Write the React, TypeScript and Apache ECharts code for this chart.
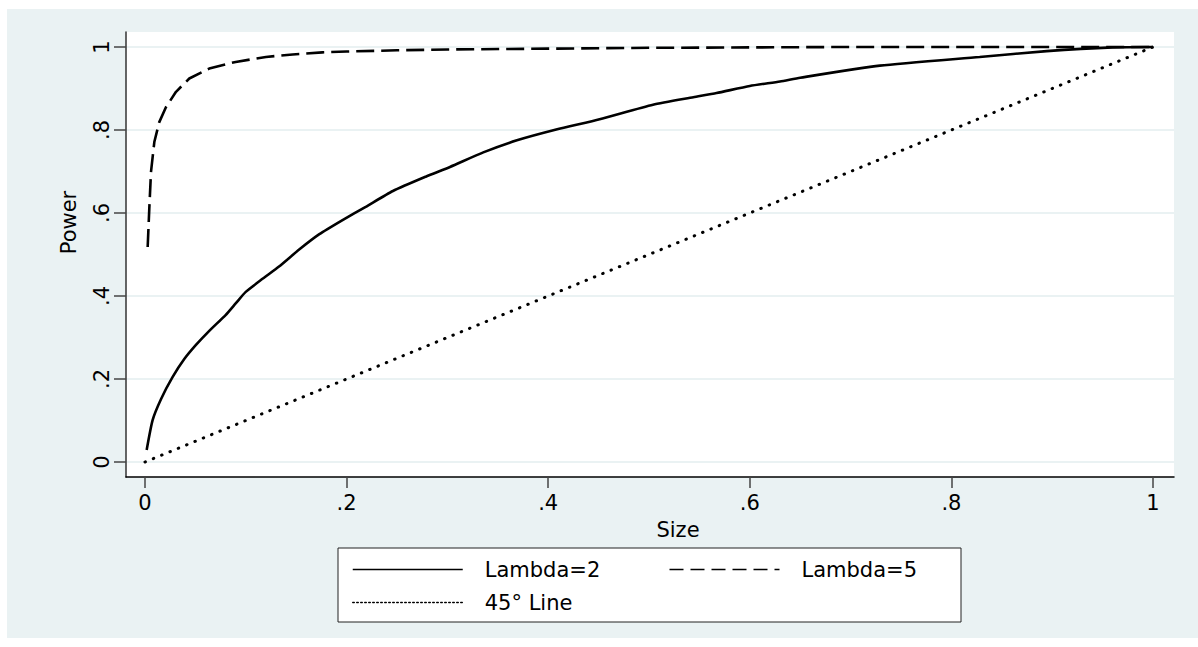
import React, { useEffect, useRef } from "react";
import * as echarts from "echarts";

// ---- data ----
const sizeL2 = [0.0017, 0.0076, 0.016, 0.0275, 0.039, 0.0506, 0.0638, 0.08, 0.09, 0.1, 0.117, 0.133, 0.153, 0.173, 0.196, 0.219, 0.246, 0.279, 0.3026, 0.3356, 0.369, 0.408, 0.451, 0.504, 0.544, 0.567, 0.6, 0.63, 0.65, 0.729, 0.828, 0.8945, 0.96, 1.0];
const powerL2 = [0.029, 0.101, 0.152, 0.205, 0.248, 0.282, 0.316, 0.354, 0.382, 0.41, 0.442, 0.471, 0.512, 0.549, 0.583, 0.615, 0.653, 0.688, 0.711, 0.746, 0.775, 0.801, 0.826, 0.861, 0.879, 0.889, 0.906, 0.917, 0.926, 0.955, 0.976, 0.99, 0.999, 1.0];

const sizeL5 = [0.0027, 0.0043, 0.006, 0.0093, 0.0142, 0.0208, 0.0308, 0.044, 0.0638, 0.09, 0.12, 0.1465, 0.176, 0.2, 0.25, 0.3, 0.4, 0.5, 0.6, 0.7, 0.8, 0.9, 1.0];
const powerL5 = [0.518, 0.61, 0.699, 0.771, 0.819, 0.855, 0.892, 0.924, 0.948, 0.964, 0.976, 0.982, 0.987, 0.989, 0.992, 0.994, 0.996, 0.998, 0.999, 1.0, 1.0, 1.0, 1.0];

const size45 = [0, 1];
const power45 = [0, 1];

const seriesNames = ["Lambda=2", "Lambda=5", "45° Line"];

const xTickValues = [0, 0.2, 0.4, 0.6, 0.8, 1];
const xTickLabels = ["0", ".2", ".4", ".6", ".8", "1"];
const yTickValues = [0, 0.2, 0.4, 0.6, 0.8, 1];
const yTickLabels = ["0", ".2", ".4", ".6", ".8", "1"];

const xRange = [-0.0188, 1.0208];
const yRange = [-0.0361, 1.0361];

const xTitle = "Size";
const yTitle = "Power";

const FONT = "DejaVu Sans";
const BG = "#EAF2F3";

function fmt(values: number[], labels: string[]) {
  return (v: number) => {
    const i = values.findIndex((t) => Math.abs(t - v) < 1e-9);
    return i >= 0 ? labels[i] : "";
  };
}

function zip(xs: number[], ys: number[]) {
  return xs.map((x, i) => [x, ys[i]]);
}

export default function App() {
  const ref = useRef<HTMLDivElement>(null);

  useEffect(() => {
    if (!ref.current) return;
    const chart = echarts.init(ref.current, undefined, { renderer: "svg" });
    chart.setOption({
      animation: false,
      backgroundColor: BG,
      textStyle: { fontFamily: FONT, color: "#000" },
      grid: {
        left: 119,
        top: 23,
        right: 24,
        bottom: 161,
        show: true,
        backgroundColor: "#ffffff",
        borderWidth: 0,
      },
      xAxis: {
        type: "value",
        min: xRange[0],
        max: xRange[1],
        name: xTitle,
        nameLocation: "middle",
        nameGap: 42,
        nameTextStyle: { fontSize: 21, color: "#000", fontFamily: FONT, padding: [0, 0, 0, 56] },
        axisLine: { show: true, onZero: false, lineStyle: { color: "#000", width: 1.5 } },
        axisTick: { show: true, length: 11, customValues: xTickValues, lineStyle: { color: "#444", width: 1.5 } },
        axisLabel: {
          customValues: xTickValues,
          formatter: fmt(xTickValues, xTickLabels),
          fontSize: 21,
          color: "#000",
          fontFamily: FONT,
          margin: 15,
        },
        splitLine: { show: false },
      },
      yAxis: {
        type: "value",
        min: yRange[0],
        max: yRange[1],
        name: yTitle,
        nameLocation: "middle",
        nameGap: 47,
        nameTextStyle: { fontSize: 21, color: "#000", fontFamily: FONT, padding: [0, 0, 0, 64] },
        axisLine: { show: true, onZero: false, lineStyle: { color: "#333", width: 1.5 } },
        axisTick: { show: true, length: 12, customValues: yTickValues, lineStyle: { color: "#444", width: 1.5 } },
        axisLabel: {
          customValues: yTickValues,
          formatter: fmt(yTickValues, yTickLabels),
          rotate: 90,
          fontSize: 21,
          color: "#000",
          fontFamily: FONT,
          margin: 14,
        },
        splitLine: { show: true, lineStyle: { color: BG, width: 2 } },
      },
      legend: {
        left: 331,
        top: 539,
        width: 620,
        orient: "horizontal",
        backgroundColor: "#ffffff",
        borderColor: "#222",
        borderWidth: 1,
        borderRadius: 0,
        padding: [10, 44, 8, 14],
        itemGap: 10,
        itemWidth: 110,
        itemHeight: 20,
        selectedMode: false,
        itemStyle: { opacity: 0, color: "rgba(0,0,0,0)", borderWidth: 0 },
        lineStyle: { width: 1.5, opacity: 1 },
        textStyle: { fontSize: 21, color: "#000", fontFamily: FONT, lineHeight: 23, padding: [0, 0, 0, 17] },
        data: [
          { name: seriesNames[0], textStyle: { width: 174 } },
          { name: seriesNames[1], lineStyle: { type: [14, 7], width: 1.5 } },
          { name: seriesNames[2], lineStyle: { type: [1.5, 2.5], width: 1.5 } },
        ],
      },
      series: [
        {
          name: seriesNames[0],
          type: "line",
          data: zip(sizeL2, powerL2),
          symbol: "none",
          showSymbol: false,
          silent: true,
          color: "#000",
          smooth: 0.2,
          lineStyle: { color: "#000", width: 2.6, type: "solid" },
        },
        {
          name: seriesNames[1],
          type: "line",
          data: zip(sizeL5, powerL5),
          symbol: "none",
          showSymbol: false,
          silent: true,
          color: "#000",
          lineStyle: { color: "#000", width: 2.6, type: [18, 7] },
        },
        {
          name: seriesNames[2],
          type: "line",
          data: zip(size45, power45),
          symbol: "none",
          showSymbol: false,
          silent: true,
          color: "#000",
          lineStyle: { color: "#000", width: 3, type: [0.5, 8.5], cap: "round" },
        },
      ],
    });
    return () => chart.dispose();
  }, []);

  return (
    <div
      ref={ref}
      style={{ position: "absolute", left: 7, top: 9, right: 0, height: 629 }}
    />
  );
}
